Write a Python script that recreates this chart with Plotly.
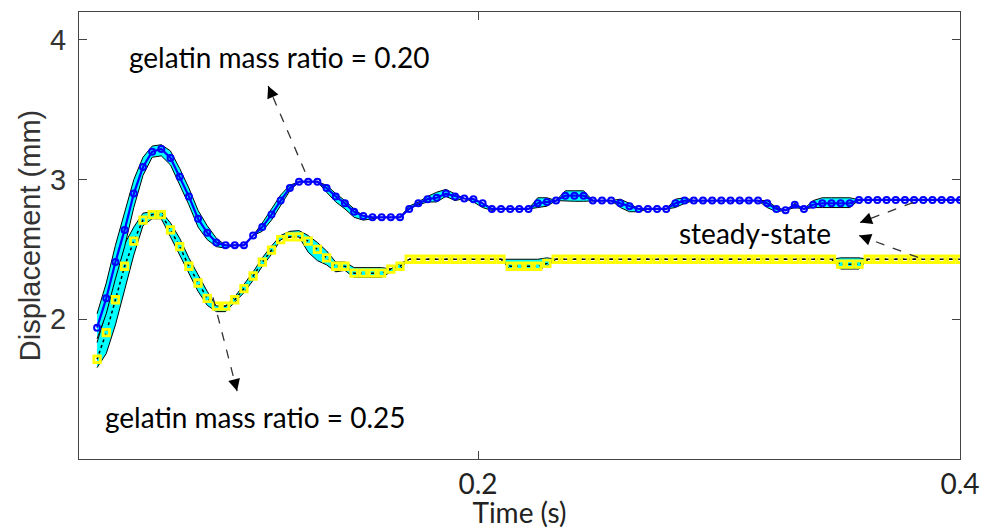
import numpy as np
import plotly.graph_objects as go

# sampling grid (s)
t = np.linspace(0.0419, 0.4, 95)

# gelatin mass ratio = 0.20 (blue)
blue_d = [1.94, 2.15, 2.41, 2.64, 2.90, 3.09, 3.20, 3.22, 3.155, 3.02,
          2.88, 2.72, 2.62, 2.55, 2.53, 2.53, 2.53, 2.60, 2.66, 2.75,
          2.85, 2.94, 2.985, 2.985, 2.985, 2.94, 2.88, 2.83, 2.77, 2.74,
          2.73, 2.73, 2.73, 2.73, 2.79, 2.83, 2.86, 2.87, 2.90, 2.88,
          2.865, 2.86, 2.83, 2.79, 2.79, 2.79, 2.79, 2.79, 2.83, 2.84,
          2.85, 2.885, 2.885, 2.885, 2.85, 2.85, 2.85, 2.83, 2.81, 2.79,
          2.79, 2.79, 2.79, 2.83, 2.85, 2.85, 2.85, 2.85, 2.85, 2.85,
          2.85, 2.85, 2.85, 2.83, 2.79, 2.78, 2.82, 2.79, 2.82, 2.83,
          2.83, 2.83, 2.83, 2.855, 2.855, 2.855, 2.855, 2.855, 2.855, 2.855,
          2.855, 2.855, 2.855, 2.855, 2.855]
blue_hi = [0.10, 0.11, 0.12, 0.12, 0.10, 0.07, 0.04, 0.03, 0.05, 0.06,
           0.06, 0.06, 0.05, 0.03, 0.00, 0.00, 0.00, 0.00, 0.03, 0.04,
           0.04, 0.02, 0.00, 0.00, 0.00, 0.02, 0.02, 0.02, 0.02, 0.00,
           0.00, 0.00, 0.00, 0.00, 0.02, 0.01, 0.02, 0.04, 0.03, 0.02,
           0.00, 0.00, 0.00, 0.00, 0.00, 0.00, 0.00, 0.00, 0.04, 0.03,
           0.00, 0.035, 0.035, 0.035, 0.00, 0.00, 0.00, 0.03, 0.02, 0.00,
           0.00, 0.00, 0.00, 0.03, 0.02, 0.00, 0.00, 0.00, 0.00, 0.00,
           0.00, 0.00, 0.00, 0.02, 0.01, 0.00, 0.01, 0.00, 0.03, 0.04,
           0.04, 0.04, 0.04, 0.00, 0.00, 0.00, 0.00, 0.00, 0.00, 0.00,
           0.00, 0.00, 0.00, 0.00, 0.00]
blue_lo = [0.08, 0.11, 0.12, 0.12, 0.10, 0.06, 0.04, 0.05, 0.05, 0.06,
           0.06, 0.06, 0.05, 0.03, 0.02, 0.00, 0.00, 0.00, 0.03, 0.04,
           0.03, 0.02, 0.00, 0.00, 0.00, 0.03, 0.04, 0.04, 0.04, 0.03,
           0.01, 0.00, 0.00, 0.00, 0.00, 0.01, 0.02, 0.03, 0.02, 0.03,
           0.00, 0.02, 0.03, 0.01, 0.00, 0.00, 0.00, 0.00, 0.03, 0.03,
           0.00, 0.04, 0.04, 0.04, 0.00, 0.00, 0.00, 0.03, 0.04, 0.02,
           0.00, 0.00, 0.00, 0.03, 0.02, 0.00, 0.00, 0.00, 0.00, 0.00,
           0.00, 0.00, 0.00, 0.03, 0.02, 0.00, 0.02, 0.00, 0.02, 0.03,
           0.03, 0.03, 0.03, 0.00, 0.00, 0.00, 0.00, 0.00, 0.00, 0.00,
           0.00, 0.00, 0.00, 0.00, 0.00]

# gelatin mass ratio = 0.25 (yellow)
yellow_d = [1.714, 1.905, 2.14, 2.38, 2.56, 2.71, 2.75, 2.75, 2.64, 2.52,
            2.38, 2.26, 2.15, 2.095, 2.095, 2.14, 2.22, 2.31, 2.41, 2.495,
            2.57, 2.59, 2.59, 2.56, 2.50, 2.44, 2.38, 2.38, 2.33, 2.33,
            2.33, 2.33, 2.36, 2.38, 2.43, 2.43, 2.43, 2.43, 2.43, 2.43,
            2.43, 2.43, 2.43, 2.43, 2.43, 2.38, 2.38, 2.38, 2.38, 2.40,
            2.43, 2.43, 2.43, 2.43, 2.43, 2.43, 2.43, 2.43, 2.43, 2.43,
            2.43, 2.43, 2.43, 2.43, 2.43, 2.43, 2.43, 2.43, 2.43, 2.43,
            2.43, 2.43, 2.43, 2.43, 2.43, 2.43, 2.43, 2.43, 2.43, 2.43,
            2.43, 2.395, 2.395, 2.395, 2.43, 2.43, 2.43, 2.43, 2.43, 2.43,
            2.43, 2.43, 2.43, 2.43, 2.43]
yellow_hi = [0.12, 0.15, 0.18, 0.16, 0.10, 0.05, 0.02, 0.02, 0.05, 0.06,
             0.06, 0.06, 0.05, 0.00, 0.00, 0.02, 0.03, 0.03, 0.03, 0.03,
             0.03, 0.04, 0.045, 0.04, 0.05, 0.05, 0.03, 0.03, 0.04, 0.04,
             0.04, 0.04, 0.00, 0.02, 0.00, 0.00, 0.00, 0.00, 0.00, 0.00,
             0.00, 0.00, 0.00, 0.00, 0.00, 0.05, 0.05, 0.05, 0.05, 0.04,
             0.00, 0.00, 0.00, 0.00, 0.00, 0.00, 0.00, 0.00, 0.00, 0.00,
             0.00, 0.00, 0.00, 0.00, 0.00, 0.00, 0.00, 0.00, 0.00, 0.00,
             0.00, 0.00, 0.00, 0.00, 0.00, 0.00, 0.00, 0.00, 0.00, 0.00,
             0.00, 0.045, 0.045, 0.045, 0.00, 0.00, 0.00, 0.00, 0.00, 0.00,
             0.00, 0.00, 0.00, 0.00, 0.00]
yellow_lo = [0.06, 0.15, 0.18, 0.16, 0.10, 0.04, 0.03, 0.03, 0.05, 0.06,
             0.06, 0.06, 0.05, 0.04, 0.04, 0.02, 0.03, 0.03, 0.03, 0.03,
             0.00, 0.00, 0.00, 0.08, 0.08, 0.05, 0.04, 0.03, 0.03, 0.03,
             0.03, 0.03, 0.02, 0.02, 0.00, 0.00, 0.00, 0.00, 0.00, 0.00,
             0.00, 0.00, 0.00, 0.00, 0.00, 0.025, 0.025, 0.025, 0.025, 0.02,
             0.00, 0.00, 0.00, 0.00, 0.00, 0.00, 0.00, 0.00, 0.00, 0.00,
             0.00, 0.00, 0.00, 0.00, 0.00, 0.00, 0.00, 0.00, 0.00, 0.00,
             0.00, 0.00, 0.00, 0.00, 0.00, 0.00, 0.00, 0.00, 0.00, 0.00,
             0.00, 0.035, 0.035, 0.035, 0.00, 0.00, 0.00, 0.00, 0.00, 0.00,
             0.00, 0.00, 0.00, 0.00, 0.00]

x_ticks = [0.2, 0.4]
y_ticks = [2, 3, 4]

fig = go.Figure()

# shaded bands (cyan with black outline)
for d, hi, lo in [(yellow_d, yellow_hi, yellow_lo), (blue_d, blue_hi, blue_lo)]:
    d = np.array(d)
    fig.add_trace(go.Scatter(x=t, y=d - np.array(lo), mode='lines',
                             line=dict(color='black', width=1),
                             showlegend=False, hoverinfo='skip'))
    fig.add_trace(go.Scatter(x=t, y=d + np.array(hi), mode='lines',
                             line=dict(color='black', width=1),
                             fill='tonexty', fillcolor='#00FFFF',
                             showlegend=False, hoverinfo='skip'))

# yellow series: black dotted line + open yellow squares
fig.add_trace(go.Scatter(x=t, y=yellow_d, mode='lines',
                         line=dict(color='black', width=1.5, dash='dot'),
                         showlegend=False))
fig.add_trace(go.Scatter(x=t, y=yellow_d, mode='markers',
                         marker=dict(symbol='square-open', size=6.5, color='#FFFF00',
                                     line=dict(width=2.8, color='#FFFF00')),
                         showlegend=False))

# blue series
fig.add_trace(go.Scatter(x=t, y=blue_d, mode='lines+markers',
                         line=dict(color='#0000FF', width=2.2),
                         marker=dict(symbol='circle-open', size=6, color='#0000FF',
                                     line=dict(width=2, color='#0000FF')),
                         showlegend=False))

txt_font = dict(family='Lato', size=28, color='black')

# dashed arrows: (tail_x, tail_y, head_x, head_y)
arrows = [(0.1282, 3.057, 0.1129, 3.671),
          (0.0900, 2.157, 0.1000, 1.486),
          (0.3805, 2.836, 0.3585, 2.693),
          (0.3826, 2.443, 0.3581, 2.600)]
shapes = []
annotations = []
for x0, y0, x1, y1 in arrows:
    shapes.append(dict(type='line', xref='x', yref='y', x0=x0, y0=y0, x1=x1, y1=y1,
                       line=dict(color='#333333', width=1.3, dash='dash')))
    annotations.append(dict(x=x1, y=y1, ax=x1 + (x0 - x1) * 0.12, ay=y1 + (y0 - y1) * 0.12,
                            xref='x', yref='y', axref='x', ayref='y', text='',
                            showarrow=True, arrowhead=2, arrowsize=1.6, arrowwidth=1.5,
                            arrowcolor='black'))

annotations += [
    dict(x=0.1178, y=3.88, xref='x', yref='y', text='gelatin mass ratio = 0.20',
         showarrow=False, font=txt_font),
    dict(x=0.1075, y=1.30, xref='x', yref='y', text='gelatin mass ratio = 0.25',
         showarrow=False, font=txt_font),
    dict(x=0.315, y=2.62, xref='x', yref='y', text='steady-state',
         showarrow=False, font=txt_font),
]

fig.update_layout(
    width=991, height=529,
    margin=dict(l=79, r=31, t=12, b=70),
    plot_bgcolor='white', paper_bgcolor='white',
    shapes=shapes, annotations=annotations,
    xaxis=dict(range=[0.0344, 0.4], tickvals=x_ticks, ticktext=['0.2', '0.4'],
               ticks='inside', ticklen=8, tickcolor='#444444',
               showline=True, linecolor='#444444', linewidth=1, mirror='ticks',
               showgrid=False, zeroline=False, automargin=False,
               tickfont=dict(family='Lato', size=28, color='#222222'),
               title=dict(text='Time (s)', font=dict(family='Lato', size=28, color='#222222'),
                          standoff=0)),
    yaxis=dict(range=[1.0, 4.2], tickvals=y_ticks,
               ticks='inside', ticklen=8, tickcolor='#444444',
               showline=True, linecolor='#444444', linewidth=1, mirror='ticks',
               showgrid=False, zeroline=False, automargin=False,
               ticklabelstandoff=6,
               tickfont=dict(family='Liberation Sans', size=29, color='#333333'),
               title=dict(text='Displacement (mm)',
                          font=dict(family='Liberation Sans', size=29, color='#333333'),
                          standoff=0)),
)

# drop the default page margin so the figure sits at the window's top-left corner
fig.write_html("out.html", config={'displayModeBar': False},
               post_script="document.body.style.margin='0';")
